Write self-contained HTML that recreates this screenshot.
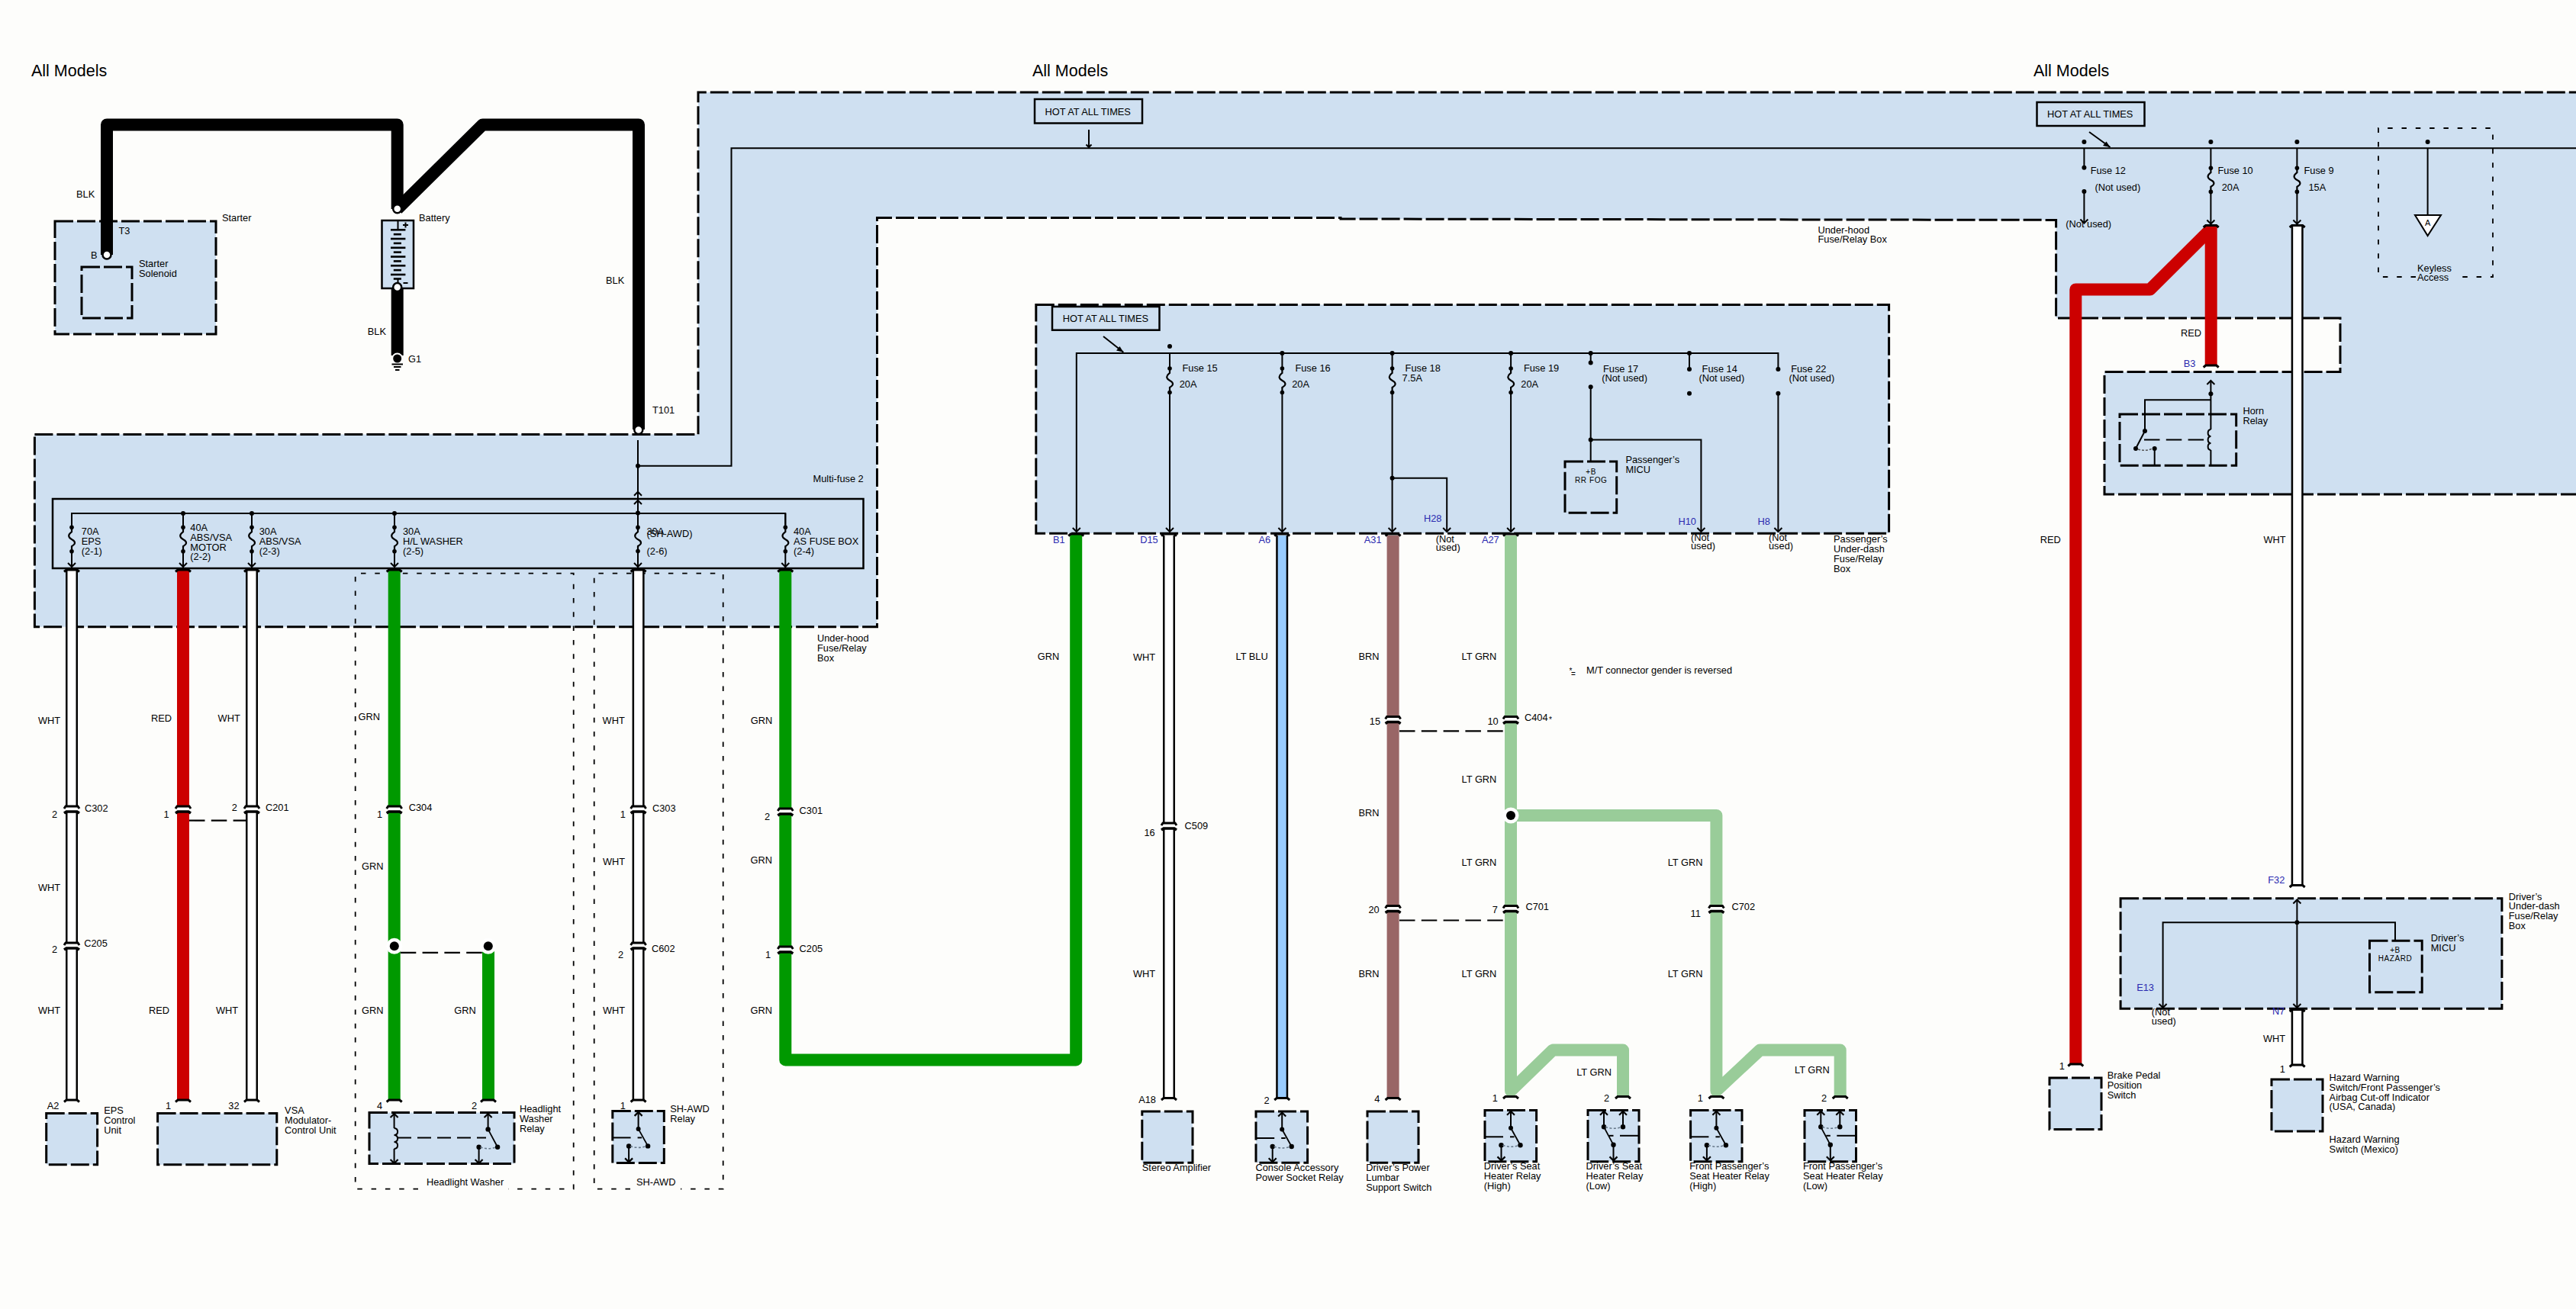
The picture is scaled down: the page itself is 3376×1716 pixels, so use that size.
<!DOCTYPE html>
<html><head><meta charset="utf-8"><style>
html,body{margin:0;padding:0;background:#fdfdfb;overflow:hidden}
svg{display:block}
text{font-family:"Liberation Sans",sans-serif}
</style></head><body>
<svg width="3376" height="1716" viewBox="0 0 3376 1716">
<rect x="0" y="0" width="3376" height="1716" fill="#fdfdfb"/>
<path d="M915,121 L3380,121 L3380,648 L2758,648 L2758,487.6 L3067,487.6 L3067,417 L2694.6,417 L2694.6,288.4 L1757,287 L1757,285.6 L1149.5,285.6 L1149.5,821.7 L45.4,821.7 L45.4,569.6 L915,569.6 Z" fill="#cfe0f1" stroke="none"/>
<path d="M45.4,569.6 L915,569.6 L915,121 L3380,121" fill="none" stroke="#000" stroke-width="3" stroke-dasharray="24 5"/>
<path d="M3380,648 L2758,648 L2758,487.6 L3067,487.6 L3067,417 L2694.6,417 L2694.6,288.4 L1757,287 L1757,285.6 L1149.5,285.6 L1149.5,821.7 L45.4,821.7 L45.4,569.6" fill="none" stroke="#000" stroke-width="3" stroke-dasharray="24 5"/>
<text x="41" y="100.0" font-size="21.5" text-anchor="start" fill="#000" >All Models</text>
<text x="1353" y="100.0" font-size="21.5" text-anchor="start" fill="#000" >All Models</text>
<text x="2665" y="100.0" font-size="21.5" text-anchor="start" fill="#000" >All Models</text>
<rect x="72" y="290" width="211" height="148" fill="#cfe0f1" stroke="#000" stroke-width="3" stroke-dasharray="24 5"/>
<rect x="107" y="350" width="66" height="67" fill="#cfe0f1" stroke="#000" stroke-width="3" stroke-dasharray="24 5"/>
<text x="291" y="290.0" font-size="12.8" text-anchor="start" fill="#000" >Starter</text>
<text x="155.5" y="307.0" font-size="12.8" text-anchor="start" fill="#000" >T3</text>
<text x="119" y="338.5" font-size="12.8" text-anchor="start" fill="#000" >B</text>
<text x="182" y="350.4" font-size="12.8" text-anchor="start" fill="#000" >Starter</text>
<text x="182" y="363.2" font-size="12.8" text-anchor="start" fill="#000" >Solenoid</text>
<text x="100" y="258.5" font-size="12.8" text-anchor="start" fill="#000" >BLK</text>
<polyline points="140,334 140,163.5 520.7,163.5 520.7,274" fill="none" stroke="#000" stroke-width="16" stroke-linejoin="round" stroke-linecap="butt"/>
<polyline points="520.7,274 632.5,163.5 837,163.5 837,563" fill="none" stroke="#000" stroke-width="16" stroke-linejoin="round" stroke-linecap="butt"/>
<polyline points="520.7,377 520.7,466" fill="none" stroke="#000" stroke-width="16" stroke-linejoin="miter" stroke-linecap="butt"/>
<rect x="500.5" y="289" width="41.5" height="89" fill="#cfe0f1" stroke="#000" stroke-width="2.5"/>
<line x1="521.5" y1="289" x2="521.5" y2="301.3" stroke="#000" stroke-width="2"/>
<line x1="512" y1="301.3" x2="531.4" y2="301.3" stroke="#000" stroke-width="2.6"/>
<line x1="515.8" y1="307.17" x2="525.9" y2="307.17" stroke="#000" stroke-width="2.6"/>
<line x1="512" y1="313.04" x2="531.4" y2="313.04" stroke="#000" stroke-width="2.6"/>
<line x1="515.8" y1="318.91" x2="525.9" y2="318.91" stroke="#000" stroke-width="2.6"/>
<line x1="512" y1="324.78000000000003" x2="531.4" y2="324.78000000000003" stroke="#000" stroke-width="2.6"/>
<line x1="515.8" y1="330.65000000000003" x2="525.9" y2="330.65000000000003" stroke="#000" stroke-width="2.6"/>
<line x1="512" y1="336.52" x2="531.4" y2="336.52" stroke="#000" stroke-width="2.6"/>
<line x1="515.8" y1="342.39" x2="525.9" y2="342.39" stroke="#000" stroke-width="2.6"/>
<line x1="512" y1="348.26" x2="531.4" y2="348.26" stroke="#000" stroke-width="2.6"/>
<line x1="515.8" y1="354.13" x2="525.9" y2="354.13" stroke="#000" stroke-width="2.6"/>
<line x1="512" y1="360.0" x2="531.4" y2="360.0" stroke="#000" stroke-width="2.6"/>
<line x1="515.8" y1="365.5" x2="525.9" y2="365.5" stroke="#000" stroke-width="2.6"/>
<line x1="521.5" y1="365.5" x2="521.5" y2="372" stroke="#000" stroke-width="2"/>
<line x1="528" y1="295" x2="535" y2="295" stroke="#000" stroke-width="2"/>
<line x1="531.5" y1="291.5" x2="531.5" y2="298.5" stroke="#000" stroke-width="2"/>
<line x1="528.5" y1="371" x2="534.5" y2="371" stroke="#000" stroke-width="2"/>
<circle cx="140" cy="334" r="5.5" fill="#fff" stroke="#000" stroke-width="2.5"/>
<circle cx="520.7" cy="273.8" r="5.5" fill="#fff" stroke="#000" stroke-width="2.5"/>
<circle cx="520.7" cy="376.5" r="5.5" fill="#fff" stroke="#000" stroke-width="2.5"/>
<circle cx="836.8" cy="563.4" r="5.5" fill="#fff" stroke="#000" stroke-width="2.5"/>
<text x="549" y="290.0" font-size="12.8" text-anchor="start" fill="#000" >Battery</text>
<text x="481.8" y="439.0" font-size="12.8" text-anchor="start" fill="#000" >BLK</text>
<text x="535" y="475.0" font-size="12.8" text-anchor="start" fill="#000" >G1</text>
<text x="794" y="372.0" font-size="12.8" text-anchor="start" fill="#000" >BLK</text>
<text x="855" y="541.6" font-size="12.8" text-anchor="start" fill="#000" >T101</text>
<circle cx="520.7" cy="470" r="6.5" fill="#000" stroke="#fff" stroke-width="2"/>
<line x1="513.5" y1="477.5" x2="528" y2="477.5" stroke="#000" stroke-width="2"/>
<line x1="516" y1="481" x2="525.5" y2="481" stroke="#000" stroke-width="2"/>
<line x1="518" y1="485" x2="523.5" y2="485" stroke="#000" stroke-width="2"/>
<polyline points="836,577 836,691" fill="none" stroke="#000" stroke-width="2" stroke-linejoin="miter" stroke-linecap="butt"/>
<polyline points="836,610.7 958.5,610.7 958.5,194.3 3380,194.3" fill="none" stroke="#000" stroke-width="2" stroke-linejoin="miter" stroke-linecap="butt"/>
<circle cx="836" cy="610.7" r="3" fill="#000"/>
<polyline points="831,649.7 836,644.7 841,649.7" fill="none" stroke="#000" stroke-width="2" stroke-linejoin="miter" stroke-linecap="butt"/>
<polyline points="831,661 836,656 841,661" fill="none" stroke="#000" stroke-width="2" stroke-linejoin="miter" stroke-linecap="butt"/>
<text x="1065.6" y="631.8" font-size="12.8" text-anchor="start" fill="#000" >Multi-fuse 2</text>
<rect x="69" y="654" width="1062.5" height="91" fill="none" stroke="#000" stroke-width="2.5"/>
<polyline points="94,691 94,673 1029.3,673 1029.3,691" fill="none" stroke="#000" stroke-width="2" stroke-linejoin="miter" stroke-linecap="butt"/>
<polyline points="94,673 94,691" fill="none" stroke="#000" stroke-width="2" stroke-linejoin="miter" stroke-linecap="butt"/>
<polyline points="94,723 94,745" fill="none" stroke="#000" stroke-width="2" stroke-linejoin="miter" stroke-linecap="butt"/>
<polyline points="240,673 240,691" fill="none" stroke="#000" stroke-width="2" stroke-linejoin="miter" stroke-linecap="butt"/>
<polyline points="240,723 240,745" fill="none" stroke="#000" stroke-width="2" stroke-linejoin="miter" stroke-linecap="butt"/>
<polyline points="330,673 330,691" fill="none" stroke="#000" stroke-width="2" stroke-linejoin="miter" stroke-linecap="butt"/>
<polyline points="330,723 330,745" fill="none" stroke="#000" stroke-width="2" stroke-linejoin="miter" stroke-linecap="butt"/>
<polyline points="517,673 517,691" fill="none" stroke="#000" stroke-width="2" stroke-linejoin="miter" stroke-linecap="butt"/>
<polyline points="517,723 517,745" fill="none" stroke="#000" stroke-width="2" stroke-linejoin="miter" stroke-linecap="butt"/>
<polyline points="836,673 836,691" fill="none" stroke="#000" stroke-width="2" stroke-linejoin="miter" stroke-linecap="butt"/>
<polyline points="836,723 836,745" fill="none" stroke="#000" stroke-width="2" stroke-linejoin="miter" stroke-linecap="butt"/>
<polyline points="1029.3,673 1029.3,691" fill="none" stroke="#000" stroke-width="2" stroke-linejoin="miter" stroke-linecap="butt"/>
<polyline points="1029.3,723 1029.3,745" fill="none" stroke="#000" stroke-width="2" stroke-linejoin="miter" stroke-linecap="butt"/>
<circle cx="94" cy="691.2" r="2.8" fill="#000"/>
<circle cx="94" cy="722.8" r="2.8" fill="#000"/>
<path d="M94,691.2 L94,697.18 C93,698.18 90,699.67 90.2,702.66 C90.4,705.16 93,706.65 95,707.65 C97,708.64 98.2,710.14 98,712.13 C97.8,714.13 95.5,715.12 94,716.12 L94,722.8" fill="none" stroke="#000" stroke-width="2.2"/>
<polyline points="89,738 94,743 99,738" fill="none" stroke="#000" stroke-width="2" stroke-linejoin="miter" stroke-linecap="butt"/>
<circle cx="240" cy="691.2" r="2.8" fill="#000"/>
<circle cx="240" cy="722.8" r="2.8" fill="#000"/>
<path d="M240,691.2 L240,697.18 C239,698.18 236,699.67 236.2,702.66 C236.4,705.16 239,706.65 241,707.65 C243,708.64 244.2,710.14 244,712.13 C243.8,714.13 241.5,715.12 240,716.12 L240,722.8" fill="none" stroke="#000" stroke-width="2.2"/>
<polyline points="235,738 240,743 245,738" fill="none" stroke="#000" stroke-width="2" stroke-linejoin="miter" stroke-linecap="butt"/>
<circle cx="240" cy="673" r="3" fill="#000"/>
<circle cx="330" cy="691.2" r="2.8" fill="#000"/>
<circle cx="330" cy="722.8" r="2.8" fill="#000"/>
<path d="M330,691.2 L330,697.18 C329,698.18 326,699.67 326.2,702.66 C326.4,705.16 329,706.65 331,707.65 C333,708.64 334.2,710.14 334,712.13 C333.8,714.13 331.5,715.12 330,716.12 L330,722.8" fill="none" stroke="#000" stroke-width="2.2"/>
<polyline points="325,738 330,743 335,738" fill="none" stroke="#000" stroke-width="2" stroke-linejoin="miter" stroke-linecap="butt"/>
<circle cx="330" cy="673" r="3" fill="#000"/>
<circle cx="517" cy="691.2" r="2.8" fill="#000"/>
<circle cx="517" cy="722.8" r="2.8" fill="#000"/>
<path d="M517,691.2 L517,697.18 C516,698.18 513,699.67 513.2,702.66 C513.4,705.16 516,706.65 518,707.65 C520,708.64 521.2,710.14 521,712.13 C520.8,714.13 518.5,715.12 517,716.12 L517,722.8" fill="none" stroke="#000" stroke-width="2.2"/>
<polyline points="512,738 517,743 522,738" fill="none" stroke="#000" stroke-width="2" stroke-linejoin="miter" stroke-linecap="butt"/>
<circle cx="517" cy="673" r="3" fill="#000"/>
<circle cx="1029.3" cy="691.2" r="2.8" fill="#000"/>
<circle cx="1029.3" cy="722.8" r="2.8" fill="#000"/>
<path d="M1029.3,691.2 L1029.3,697.18 C1028.3,698.18 1025.3,699.67 1025.5,702.66 C1025.7,705.16 1028.3,706.65 1030.3,707.65 C1032.3,708.64 1033.5,710.14 1033.3,712.13 C1033.1,714.13 1030.8,715.12 1029.3,716.12 L1029.3,722.8" fill="none" stroke="#000" stroke-width="2.2"/>
<polyline points="1024.3,738 1029.3,743 1034.3,738" fill="none" stroke="#000" stroke-width="2" stroke-linejoin="miter" stroke-linecap="butt"/>
<text x="106.8" y="700.9" font-size="12.8" text-anchor="start" fill="#000" >70A</text>
<text x="106.8" y="713.7" font-size="12.8" text-anchor="start" fill="#000" >EPS</text>
<text x="106.8" y="726.5" font-size="12.8" text-anchor="start" fill="#000" >(2-1)</text>
<text x="249.3" y="696.0" font-size="12.8" text-anchor="start" fill="#000" >40A</text>
<text x="249.3" y="708.8" font-size="12.8" text-anchor="start" fill="#000" >ABS/VSA</text>
<text x="249.3" y="721.6" font-size="12.8" text-anchor="start" fill="#000" >MOTOR</text>
<text x="249.3" y="734.4" font-size="12.8" text-anchor="start" fill="#000" >(2-2)</text>
<text x="339.7" y="700.9" font-size="12.8" text-anchor="start" fill="#000" >30A</text>
<text x="339.7" y="713.7" font-size="12.8" text-anchor="start" fill="#000" >ABS/VSA</text>
<text x="339.7" y="726.5" font-size="12.8" text-anchor="start" fill="#000" >(2-3)</text>
<text x="528" y="700.9" font-size="12.8" text-anchor="start" fill="#000" >30A</text>
<text x="528" y="713.7" font-size="12.8" text-anchor="start" fill="#000" >H/L WASHER</text>
<text x="528" y="726.5" font-size="12.8" text-anchor="start" fill="#000" >(2-5)</text>
<text x="1040" y="700.9" font-size="12.8" text-anchor="start" fill="#000" >40A</text>
<text x="1040" y="713.7" font-size="12.8" text-anchor="start" fill="#000" >AS FUSE BOX</text>
<text x="1040" y="726.5" font-size="12.8" text-anchor="start" fill="#000" >(2-4)</text>
<circle cx="836" cy="691.4" r="2.8" fill="#000"/>
<circle cx="836" cy="722.6" r="2.8" fill="#000"/>
<path d="M836,691.4 L836,697.31 C835,698.29 832,699.77 832.2,702.72 C832.4,705.18 835,706.66 837,707.64 C839,708.62 840.2,710.10 840,712.07 C839.8,714.04 837.5,715.02 836,716.01 L836,722.6" fill="none" stroke="#000" stroke-width="2.2"/>
<circle cx="836" cy="672.5" r="3" fill="#000"/>
<polyline points="831,738 836,743 841,738" fill="none" stroke="#000" stroke-width="2" stroke-linejoin="miter" stroke-linecap="butt"/>
<text x="847.5" y="700.6" font-size="12.8" text-anchor="start" fill="#000" >30A</text>
<text x="847.5" y="704.2" font-size="12.8" text-anchor="start" fill="#000" >(SH-AWD)</text>
<text x="847.5" y="727.0" font-size="12.8" text-anchor="start" fill="#000" >(2-6)</text>
<text x="1071" y="841.0" font-size="12.8" text-anchor="start" fill="#000" >Under-hood</text>
<text x="1071" y="853.8" font-size="12.8" text-anchor="start" fill="#000" >Fuse/Relay</text>
<text x="1071" y="866.6" font-size="12.8" text-anchor="start" fill="#000" >Box</text>
<path d="M548,1558.7 L465.7,1558.7 L465.7,751.6 L751.7,751.6 L751.7,1558.7 L666,1558.7" fill="none" stroke="#000" stroke-width="1.8" stroke-dasharray="6.5 11.8"/>
<path d="M826,1558.7 L778.7,1558.7 L778.7,751.6 L947.7,751.6 L947.7,1558.7 L892,1558.7" fill="none" stroke="#000" stroke-width="1.8" stroke-dasharray="6.5 11.8"/>
<text x="559" y="1553.5" font-size="12.8" text-anchor="start" fill="#000" >Headlight Washer</text>
<text x="834" y="1554.0" font-size="12.8" text-anchor="start" fill="#000" >SH-AWD</text>
<polyline points="94,748 94,1443" fill="none" stroke="#000" stroke-width="16" stroke-linejoin="round" stroke-linecap="butt"/>
<polyline points="94,748 94,1443" fill="none" stroke="#fff" stroke-width="11" stroke-linejoin="round" stroke-linecap="butt"/>
<polyline points="240,748 240,1443" fill="none" stroke="#cc0000" stroke-width="16" stroke-linejoin="round" stroke-linecap="butt"/>
<polyline points="330,748 330,1443" fill="none" stroke="#000" stroke-width="16" stroke-linejoin="round" stroke-linecap="butt"/>
<polyline points="330,748 330,1443" fill="none" stroke="#fff" stroke-width="11" stroke-linejoin="round" stroke-linecap="butt"/>
<polyline points="516.7,748 516.7,1443" fill="none" stroke="#009900" stroke-width="16" stroke-linejoin="round" stroke-linecap="butt"/>
<polyline points="640,1240.4 640,1443" fill="none" stroke="#009900" stroke-width="16" stroke-linejoin="round" stroke-linecap="butt"/>
<polyline points="836.6,748 836.6,1443" fill="none" stroke="#000" stroke-width="16" stroke-linejoin="round" stroke-linecap="butt"/>
<polyline points="836.6,748 836.6,1443" fill="none" stroke="#fff" stroke-width="11" stroke-linejoin="round" stroke-linecap="butt"/>
<polyline points="1029.3,748 1029.3,1389.4 1410.2,1389.4 1410.2,701" fill="none" stroke="#009900" stroke-width="16" stroke-linejoin="round" stroke-linecap="butt"/>
<path d="M84.0,749.5 L87.0,747.0 L101.0,747.0 L104.0,749.5" fill="none" stroke="#000" stroke-width="3"/>
<path d="M230.0,749.5 L233.0,747.0 L247.0,747.0 L250.0,749.5" fill="none" stroke="#000" stroke-width="3"/>
<path d="M320.0,749.5 L323.0,747.0 L337.0,747.0 L340.0,749.5" fill="none" stroke="#000" stroke-width="3"/>
<path d="M506.70000000000005,749.5 L509.70000000000005,747.0 L523.7,747.0 L526.7,749.5" fill="none" stroke="#000" stroke-width="3"/>
<path d="M826.6,749.5 L829.6,747.0 L843.6,747.0 L846.6,749.5" fill="none" stroke="#000" stroke-width="3"/>
<path d="M1019.3,749.5 L1022.3,747.0 L1036.3,747.0 L1039.3,749.5" fill="none" stroke="#000" stroke-width="3"/>
<path d="M84.0,1444.5 L87.0,1442.0 L101.0,1442.0 L104.0,1444.5" fill="none" stroke="#000" stroke-width="3"/>
<path d="M230.0,1444.5 L233.0,1442.0 L247.0,1442.0 L250.0,1444.5" fill="none" stroke="#000" stroke-width="3"/>
<path d="M320.0,1444.5 L323.0,1442.0 L337.0,1442.0 L340.0,1444.5" fill="none" stroke="#000" stroke-width="3"/>
<path d="M506.70000000000005,1444.5 L509.70000000000005,1442.0 L523.7,1442.0 L526.7,1444.5" fill="none" stroke="#000" stroke-width="3"/>
<path d="M630.0,1444.5 L633.0,1442.0 L647.0,1442.0 L650.0,1444.5" fill="none" stroke="#000" stroke-width="3"/>
<path d="M826.6,1444.5 L829.6,1442.0 L843.6,1442.0 L846.6,1444.5" fill="none" stroke="#000" stroke-width="3"/>
<rect x="85.0" y="1058.0" width="18" height="6" fill="#fdfdfb"/>
<path d="M84.0,1060.0 L86.0,1057.0 L102.0,1057.0 L104.0,1060.0" fill="none" stroke="#000" stroke-width="3"/>
<path d="M84.0,1066.0 L87.0,1064.0 L101.0,1064.0 L104.0,1066.0" fill="none" stroke="#000" stroke-width="3.5"/>
<rect x="231.0" y="1058.0" width="18" height="6" fill="#fdfdfb"/>
<path d="M230.0,1060.0 L232.0,1057.0 L248.0,1057.0 L250.0,1060.0" fill="none" stroke="#000" stroke-width="3"/>
<path d="M230.0,1066.0 L233.0,1064.0 L247.0,1064.0 L250.0,1066.0" fill="none" stroke="#000" stroke-width="3.5"/>
<rect x="321.0" y="1058.0" width="18" height="6" fill="#fdfdfb"/>
<path d="M320.0,1060.0 L322.0,1057.0 L338.0,1057.0 L340.0,1060.0" fill="none" stroke="#000" stroke-width="3"/>
<path d="M320.0,1066.0 L323.0,1064.0 L337.0,1064.0 L340.0,1066.0" fill="none" stroke="#000" stroke-width="3.5"/>
<rect x="507.70000000000005" y="1058.0" width="18" height="6" fill="#fdfdfb"/>
<path d="M506.70000000000005,1060.0 L508.70000000000005,1057.0 L524.7,1057.0 L526.7,1060.0" fill="none" stroke="#000" stroke-width="3"/>
<path d="M506.70000000000005,1066.0 L509.70000000000005,1064.0 L523.7,1064.0 L526.7,1066.0" fill="none" stroke="#000" stroke-width="3.5"/>
<rect x="827.6" y="1058.0" width="18" height="6" fill="#fdfdfb"/>
<path d="M826.6,1060.0 L828.6,1057.0 L844.6,1057.0 L846.6,1060.0" fill="none" stroke="#000" stroke-width="3"/>
<path d="M826.6,1066.0 L829.6,1064.0 L843.6,1064.0 L846.6,1066.0" fill="none" stroke="#000" stroke-width="3.5"/>
<rect x="1020.3" y="1061.0" width="18" height="6" fill="#fdfdfb"/>
<path d="M1019.3,1063.0 L1021.3,1060.0 L1037.3,1060.0 L1039.3,1063.0" fill="none" stroke="#000" stroke-width="3"/>
<path d="M1019.3,1069.0 L1022.3,1067.0 L1036.3,1067.0 L1039.3,1069.0" fill="none" stroke="#000" stroke-width="3.5"/>
<rect x="85.0" y="1237.0" width="18" height="6" fill="#fdfdfb"/>
<path d="M84.0,1239.0 L86.0,1236.0 L102.0,1236.0 L104.0,1239.0" fill="none" stroke="#000" stroke-width="3"/>
<path d="M84.0,1245.0 L87.0,1243.0 L101.0,1243.0 L104.0,1245.0" fill="none" stroke="#000" stroke-width="3.5"/>
<rect x="827.6" y="1237.0" width="18" height="6" fill="#fdfdfb"/>
<path d="M826.6,1239.0 L828.6,1236.0 L844.6,1236.0 L846.6,1239.0" fill="none" stroke="#000" stroke-width="3"/>
<path d="M826.6,1245.0 L829.6,1243.0 L843.6,1243.0 L846.6,1245.0" fill="none" stroke="#000" stroke-width="3.5"/>
<rect x="1020.3" y="1242.0" width="18" height="6" fill="#fdfdfb"/>
<path d="M1019.3,1244.0 L1021.3,1241.0 L1037.3,1241.0 L1039.3,1244.0" fill="none" stroke="#000" stroke-width="3"/>
<path d="M1019.3,1250.0 L1022.3,1248.0 L1036.3,1248.0 L1039.3,1250.0" fill="none" stroke="#000" stroke-width="3.5"/>
<text x="68" y="1072.0" font-size="12.8" text-anchor="start" fill="#000" >2</text>
<text x="111" y="1064.0" font-size="12.8" text-anchor="start" fill="#000" >C302</text>
<text x="214.5" y="1072.0" font-size="12.8" text-anchor="start" fill="#000" >1</text>
<text x="303.8" y="1063.0" font-size="12.8" text-anchor="start" fill="#000" >2</text>
<text x="348" y="1063.0" font-size="12.8" text-anchor="start" fill="#000" >C201</text>
<line x1="248" y1="1075.6" x2="322" y2="1075.6" stroke="#000" stroke-width="2.2" stroke-dasharray="20.5 8.3"/>
<text x="494" y="1072.0" font-size="12.8" text-anchor="start" fill="#000" >1</text>
<text x="535.7" y="1063.0" font-size="12.8" text-anchor="start" fill="#000" >C304</text>
<text x="812.7" y="1072.0" font-size="12.8" text-anchor="start" fill="#000" >1</text>
<text x="855" y="1064.0" font-size="12.8" text-anchor="start" fill="#000" >C303</text>
<text x="1002" y="1074.6" font-size="12.8" text-anchor="start" fill="#000" >2</text>
<text x="1047.6" y="1066.7" font-size="12.8" text-anchor="start" fill="#000" >C301</text>
<text x="68" y="1249.0" font-size="12.8" text-anchor="start" fill="#000" >2</text>
<text x="110.2" y="1241.0" font-size="12.8" text-anchor="start" fill="#000" >C205</text>
<text x="810" y="1256.0" font-size="12.8" text-anchor="start" fill="#000" >2</text>
<text x="854" y="1248.0" font-size="12.8" text-anchor="start" fill="#000" >C602</text>
<text x="1003" y="1256.0" font-size="12.8" text-anchor="start" fill="#000" >1</text>
<text x="1047.6" y="1248.0" font-size="12.8" text-anchor="start" fill="#000" >C205</text>
<line x1="524.8" y1="1248.8" x2="632" y2="1248.8" stroke="#000" stroke-width="2.2" stroke-dasharray="20.5 8.3"/>
<circle cx="516.8" cy="1240.3" r="10.5" fill="#fff"/>
<circle cx="516.8" cy="1240.3" r="6" fill="#000"/>
<circle cx="639.8" cy="1240.3" r="10.5" fill="#fff"/>
<circle cx="639.8" cy="1240.3" r="6" fill="#000"/>
<text x="50" y="949.0" font-size="12.8" text-anchor="start" fill="#000" >WHT</text>
<text x="198" y="946.0" font-size="12.8" text-anchor="start" fill="#000" >RED</text>
<text x="285.6" y="946.0" font-size="12.8" text-anchor="start" fill="#000" >WHT</text>
<text x="469.6" y="944.0" font-size="12.8" text-anchor="start" fill="#000" >GRN</text>
<text x="789.6" y="949.0" font-size="12.8" text-anchor="start" fill="#000" >WHT</text>
<text x="983.8" y="949.0" font-size="12.8" text-anchor="start" fill="#000" >GRN</text>
<text x="50" y="1168.0" font-size="12.8" text-anchor="start" fill="#000" >WHT</text>
<text x="474" y="1139.7" font-size="12.8" text-anchor="start" fill="#000" >GRN</text>
<text x="790" y="1133.7" font-size="12.8" text-anchor="start" fill="#000" >WHT</text>
<text x="983.5" y="1132.0" font-size="12.8" text-anchor="start" fill="#000" >GRN</text>
<text x="50" y="1328.8" font-size="12.8" text-anchor="start" fill="#000" >WHT</text>
<text x="195" y="1328.8" font-size="12.8" text-anchor="start" fill="#000" >RED</text>
<text x="283" y="1328.8" font-size="12.8" text-anchor="start" fill="#000" >WHT</text>
<text x="474" y="1328.8" font-size="12.8" text-anchor="start" fill="#000" >GRN</text>
<text x="595.3" y="1328.8" font-size="12.8" text-anchor="start" fill="#000" >GRN</text>
<text x="790" y="1328.8" font-size="12.8" text-anchor="start" fill="#000" >WHT</text>
<text x="983.5" y="1328.8" font-size="12.8" text-anchor="start" fill="#000" >GRN</text>
<rect x="60.7" y="1459.5" width="66.89999999999999" height="67.29999999999995" fill="#cfe0f1" stroke="#000" stroke-width="3" stroke-dasharray="24 5"/>
<text x="61.7" y="1454.2" font-size="12.8" text-anchor="start" fill="#000" >A2</text>
<text x="136.2" y="1460.0" font-size="12.8" text-anchor="start" fill="#000" >EPS</text>
<text x="136.2" y="1472.8" font-size="12.8" text-anchor="start" fill="#000" >Control</text>
<text x="136.2" y="1485.6" font-size="12.8" text-anchor="start" fill="#000" >Unit</text>
<rect x="206.6" y="1459.5" width="156.20000000000002" height="67.29999999999995" fill="#cfe0f1" stroke="#000" stroke-width="3" stroke-dasharray="24 5"/>
<text x="217" y="1454.2" font-size="12.8" text-anchor="start" fill="#000" >1</text>
<text x="299.3" y="1454.2" font-size="12.8" text-anchor="start" fill="#000" >32</text>
<text x="373.1" y="1460.0" font-size="12.8" text-anchor="start" fill="#000" >VSA</text>
<text x="373.1" y="1472.8" font-size="12.8" text-anchor="start" fill="#000" >Modulator-</text>
<text x="373.1" y="1485.6" font-size="12.8" text-anchor="start" fill="#000" >Control Unit</text>
<rect x="484" y="1458.5" width="190" height="67.0" fill="#cfe0f1" stroke="#000" stroke-width="3" stroke-dasharray="24 5"/>
<text x="494" y="1454.0" font-size="12.8" text-anchor="start" fill="#000" >4</text>
<text x="618" y="1454.0" font-size="12.8" text-anchor="start" fill="#000" >2</text>
<text x="681" y="1458.0" font-size="12.8" text-anchor="start" fill="#000" >Headlight</text>
<text x="681" y="1470.8" font-size="12.8" text-anchor="start" fill="#000" >Washer</text>
<text x="681" y="1483.6" font-size="12.8" text-anchor="start" fill="#000" >Relay</text>
<rect x="802.8" y="1456.4" width="67.5" height="68.0" fill="#cfe0f1" stroke="#000" stroke-width="3" stroke-dasharray="24 5"/>
<text x="812.7" y="1454.0" font-size="12.8" text-anchor="start" fill="#000" >1</text>
<text x="878.3" y="1458.0" font-size="12.8" text-anchor="start" fill="#000" >SH-AWD</text>
<text x="878.3" y="1470.8" font-size="12.8" text-anchor="start" fill="#000" >Relay</text>
<rect x="1356" y="130" width="141" height="31.5" fill="none" stroke="#000" stroke-width="2.5"/>
<text x="1369.5" y="150.5" font-size="12.8" text-anchor="start" fill="#000" >HOT AT ALL TIMES</text>
<polyline points="1427,170 1427,194" fill="none" stroke="#000" stroke-width="2" stroke-linejoin="miter" stroke-linecap="butt"/>
<polyline points="1423.5,189.5 1427,193 1430.5,189.5" fill="none" stroke="#000" stroke-width="2" stroke-linejoin="miter" stroke-linecap="butt"/>
<text x="2382.5" y="305.5" font-size="12.8" text-anchor="start" fill="#000" >Under-hood</text>
<text x="2382.5" y="318.3" font-size="12.8" text-anchor="start" fill="#000" >Fuse/Relay Box</text>
<rect x="1357.8" y="399.5" width="1117.8" height="299.70000000000005" fill="#cfe0f1" stroke="#000" stroke-width="3" stroke-dasharray="24 5"/>
<rect x="1379" y="402" width="140.5" height="30.7" fill="none" stroke="#000" stroke-width="2.5"/>
<text x="1392.7" y="422.0" font-size="12.8" text-anchor="start" fill="#000" >HOT AT ALL TIMES</text>
<polyline points="1446,441 1472.3,461.8" fill="none" stroke="#000" stroke-width="2" stroke-linejoin="miter" stroke-linecap="butt"/>
<path d="M1472.3,461.8 L1463,459.5 L1467.5,454 Z" fill="#000"/>
<polyline points="1410.8,697 1410.8,463 2330.4,463 2330.4,484" fill="none" stroke="#000" stroke-width="2" stroke-linejoin="miter" stroke-linecap="butt"/>
<circle cx="1533" cy="454" r="3" fill="#000"/>
<circle cx="1533" cy="483" r="2.8" fill="#000"/>
<circle cx="1533" cy="514.5" r="2.8" fill="#000"/>
<path d="M1533,483 L1533,488.96 C1532,489.96 1529,491.45 1529.2,494.43 C1529.4,496.91 1532,498.40 1534,499.40 C1536,500.39 1537.2,501.88 1537,503.87 C1536.8,505.85 1534.5,506.85 1533,507.84 L1533,514.5" fill="none" stroke="#000" stroke-width="2.2"/>
<polyline points="1533,463 1533,483" fill="none" stroke="#000" stroke-width="2" stroke-linejoin="miter" stroke-linecap="butt"/>
<polyline points="1533,514.5 1533,697" fill="none" stroke="#000" stroke-width="2" stroke-linejoin="miter" stroke-linecap="butt"/>
<circle cx="1680.4" cy="483" r="2.8" fill="#000"/>
<circle cx="1680.4" cy="514.5" r="2.8" fill="#000"/>
<path d="M1680.4,483 L1680.4,488.96 C1679.4,489.96 1676.4,491.45 1676.6000000000001,494.43 C1676.8000000000002,496.91 1679.4,498.40 1681.4,499.40 C1683.4,500.39 1684.6000000000001,501.88 1684.4,503.87 C1684.2,505.85 1681.9,506.85 1680.4,507.84 L1680.4,514.5" fill="none" stroke="#000" stroke-width="2.2"/>
<polyline points="1680.4,463 1680.4,483" fill="none" stroke="#000" stroke-width="2" stroke-linejoin="miter" stroke-linecap="butt"/>
<polyline points="1680.4,514.5 1680.4,697" fill="none" stroke="#000" stroke-width="2" stroke-linejoin="miter" stroke-linecap="butt"/>
<circle cx="1824.6" cy="483" r="2.8" fill="#000"/>
<circle cx="1824.6" cy="514.5" r="2.8" fill="#000"/>
<path d="M1824.6,483 L1824.6,488.96 C1823.6,489.96 1820.6,491.45 1820.8,494.43 C1821.0,496.91 1823.6,498.40 1825.6,499.40 C1827.6,500.39 1828.8,501.88 1828.6,503.87 C1828.3999999999999,505.85 1826.1,506.85 1824.6,507.84 L1824.6,514.5" fill="none" stroke="#000" stroke-width="2.2"/>
<polyline points="1824.6,463 1824.6,483" fill="none" stroke="#000" stroke-width="2" stroke-linejoin="miter" stroke-linecap="butt"/>
<polyline points="1824.6,514.5 1824.6,697" fill="none" stroke="#000" stroke-width="2" stroke-linejoin="miter" stroke-linecap="butt"/>
<circle cx="1980.1" cy="483" r="2.8" fill="#000"/>
<circle cx="1980.1" cy="514.5" r="2.8" fill="#000"/>
<path d="M1980.1,483 L1980.1,488.96 C1979.1,489.96 1976.1,491.45 1976.3,494.43 C1976.5,496.91 1979.1,498.40 1981.1,499.40 C1983.1,500.39 1984.3,501.88 1984.1,503.87 C1983.8999999999999,505.85 1981.6,506.85 1980.1,507.84 L1980.1,514.5" fill="none" stroke="#000" stroke-width="2.2"/>
<polyline points="1980.1,463 1980.1,483" fill="none" stroke="#000" stroke-width="2" stroke-linejoin="miter" stroke-linecap="butt"/>
<polyline points="1980.1,514.5 1980.1,697" fill="none" stroke="#000" stroke-width="2" stroke-linejoin="miter" stroke-linecap="butt"/>
<circle cx="1680.4" cy="463" r="3" fill="#000"/>
<circle cx="1824.6" cy="463" r="3" fill="#000"/>
<circle cx="1980.1" cy="463" r="3" fill="#000"/>
<circle cx="2084.7" cy="463" r="3" fill="#000"/>
<circle cx="2214" cy="463" r="3" fill="#000"/>
<text x="1549.5" y="487.0" font-size="12.8" text-anchor="start" fill="#000" >Fuse 15</text>
<text x="1545.7" y="507.8" font-size="12.8" text-anchor="start" fill="#000" >20A</text>
<text x="1697.4" y="487.0" font-size="12.8" text-anchor="start" fill="#000" >Fuse 16</text>
<text x="1693.2" y="507.8" font-size="12.8" text-anchor="start" fill="#000" >20A</text>
<text x="1841.6" y="486.9" font-size="12.8" text-anchor="start" fill="#000" >Fuse 18</text>
<text x="1837.6" y="499.5" font-size="12.8" text-anchor="start" fill="#000" >7.5A</text>
<text x="1996.9" y="487.0" font-size="12.8" text-anchor="start" fill="#000" >Fuse 19</text>
<text x="1993.3" y="507.5" font-size="12.8" text-anchor="start" fill="#000" >20A</text>
<polyline points="2084.7,463 2084.7,475.4" fill="none" stroke="#000" stroke-width="2" stroke-linejoin="miter" stroke-linecap="butt"/>
<circle cx="2084.7" cy="475.4" r="3" fill="#000"/>
<circle cx="2084.7" cy="507.2" r="3" fill="#000"/>
<polyline points="2084.7,507.2 2084.7,604" fill="none" stroke="#000" stroke-width="2" stroke-linejoin="miter" stroke-linecap="butt"/>
<polyline points="2084.7,576.4 2229.4,576.4 2229.4,697" fill="none" stroke="#000" stroke-width="2" stroke-linejoin="miter" stroke-linecap="butt"/>
<circle cx="2084.7" cy="576.4" r="3" fill="#000"/>
<text x="2101" y="487.7" font-size="12.8" text-anchor="start" fill="#000" >Fuse 17</text>
<text x="2099.2" y="499.9" font-size="12.8" text-anchor="start" fill="#000" >(Not used)</text>
<polyline points="2214,463 2214,484" fill="none" stroke="#000" stroke-width="2" stroke-linejoin="miter" stroke-linecap="butt"/>
<circle cx="2214" cy="484" r="3" fill="#000"/>
<circle cx="2214" cy="515.8" r="3" fill="#000"/>
<text x="2230.6" y="487.7" font-size="12.8" text-anchor="start" fill="#000" >Fuse 14</text>
<text x="2226.5" y="499.9" font-size="12.8" text-anchor="start" fill="#000" >(Not used)</text>
<circle cx="2330.4" cy="484" r="3" fill="#000"/>
<circle cx="2330.4" cy="515.8" r="3" fill="#000"/>
<polyline points="2330.4,515.8 2330.4,697" fill="none" stroke="#000" stroke-width="2" stroke-linejoin="miter" stroke-linecap="butt"/>
<text x="2347.2" y="487.7" font-size="12.8" text-anchor="start" fill="#000" >Fuse 22</text>
<text x="2344.5" y="499.9" font-size="12.8" text-anchor="start" fill="#000" >(Not used)</text>
<polyline points="1824.6,626.8 1896.2,626.8 1896.2,697" fill="none" stroke="#000" stroke-width="2" stroke-linejoin="miter" stroke-linecap="butt"/>
<circle cx="1824.6" cy="626.8" r="3" fill="#000"/>
<rect x="2051" y="605" width="67.69999999999982" height="67.20000000000005" fill="#cfe0f1" stroke="#000" stroke-width="3" stroke-dasharray="24 5"/>
<text x="2085.2" y="622.0" font-size="10" text-anchor="middle" fill="#000" letter-spacing="0.6">+B</text>
<text x="2085.2" y="633.0" font-size="10" text-anchor="middle" fill="#000" letter-spacing="0.6">RR FOG</text>
<text x="2130.4" y="607.4" font-size="12.8" text-anchor="start" fill="#000" >Passenger’s</text>
<text x="2130.4" y="620.2" font-size="12.8" text-anchor="start" fill="#000" >MICU</text>
<polyline points="1405.8,692 1410.8,697 1415.8,692" fill="none" stroke="#000" stroke-width="2" stroke-linejoin="miter" stroke-linecap="butt"/>
<polyline points="1528,692 1533,697 1538,692" fill="none" stroke="#000" stroke-width="2" stroke-linejoin="miter" stroke-linecap="butt"/>
<polyline points="1675.4,692 1680.4,697 1685.4,692" fill="none" stroke="#000" stroke-width="2" stroke-linejoin="miter" stroke-linecap="butt"/>
<polyline points="1819.6,692 1824.6,697 1829.6,692" fill="none" stroke="#000" stroke-width="2" stroke-linejoin="miter" stroke-linecap="butt"/>
<polyline points="1891.2,692 1896.2,697 1901.2,692" fill="none" stroke="#000" stroke-width="2" stroke-linejoin="miter" stroke-linecap="butt"/>
<polyline points="1975.1,692 1980.1,697 1985.1,692" fill="none" stroke="#000" stroke-width="2" stroke-linejoin="miter" stroke-linecap="butt"/>
<polyline points="2224.4,692 2229.4,697 2234.4,692" fill="none" stroke="#000" stroke-width="2" stroke-linejoin="miter" stroke-linecap="butt"/>
<polyline points="2325.4,692 2330.4,697 2335.4,692" fill="none" stroke="#000" stroke-width="2" stroke-linejoin="miter" stroke-linecap="butt"/>
<text x="1379.9" y="712.3" font-size="12.8" text-anchor="start" fill="#2b2bb0" >B1</text>
<text x="1494.2" y="712.3" font-size="12.8" text-anchor="start" fill="#2b2bb0" >D15</text>
<text x="1649.4" y="712.3" font-size="12.8" text-anchor="start" fill="#2b2bb0" >A6</text>
<text x="1787.8" y="712.3" font-size="12.8" text-anchor="start" fill="#2b2bb0" >A31</text>
<text x="1941.9" y="712.3" font-size="12.8" text-anchor="start" fill="#2b2bb0" >A27</text>
<text x="1866" y="683.7" font-size="12.8" text-anchor="start" fill="#2b2bb0" >H28</text>
<text x="2199.4" y="688.0" font-size="12.8" text-anchor="start" fill="#2b2bb0" >H10</text>
<text x="2303.5" y="688.0" font-size="12.8" text-anchor="start" fill="#2b2bb0" >H8</text>
<text x="1881.7" y="710.6" font-size="12.8" text-anchor="start" fill="#000" >(Not</text>
<text x="1881.7" y="722.1" font-size="12.8" text-anchor="start" fill="#000" >used)</text>
<text x="2216" y="708.9" font-size="12.8" text-anchor="start" fill="#000" >(Not</text>
<text x="2216" y="720.4" font-size="12.8" text-anchor="start" fill="#000" >used)</text>
<text x="2318" y="708.9" font-size="12.8" text-anchor="start" fill="#000" >(Not</text>
<text x="2318" y="720.4" font-size="12.8" text-anchor="start" fill="#000" >used)</text>
<text x="2403" y="711.3" font-size="12.8" text-anchor="start" fill="#000" >Passenger’s</text>
<text x="2403" y="724.1" font-size="12.8" text-anchor="start" fill="#000" >Under-dash</text>
<text x="2403" y="736.9" font-size="12.8" text-anchor="start" fill="#000" >Fuse/Relay</text>
<text x="2403" y="749.7" font-size="12.8" text-anchor="start" fill="#000" >Box</text>
<polyline points="1532,702 1532,1440.5" fill="none" stroke="#000" stroke-width="16" stroke-linejoin="round" stroke-linecap="butt"/>
<polyline points="1532,702 1532,1440.5" fill="none" stroke="#fff" stroke-width="11" stroke-linejoin="round" stroke-linecap="butt"/>
<polyline points="1680.2,702 1680.2,1440.5" fill="none" stroke="#000" stroke-width="16" stroke-linejoin="round" stroke-linecap="butt"/>
<polyline points="1680.2,702 1680.2,1440.5" fill="none" stroke="#99ccff" stroke-width="11" stroke-linejoin="round" stroke-linecap="butt"/>
<polyline points="1825.6,702 1825.6,1440.5" fill="none" stroke="#996666" stroke-width="16" stroke-linejoin="round" stroke-linecap="butt"/>
<polyline points="1980,702 1980,1430 2035,1376.6 2127,1376.6 2127,1438" fill="none" stroke="#99cc99" stroke-width="16" stroke-linejoin="round" stroke-linecap="butt"/>
<polyline points="1980,1069 2249.4,1069 2249.4,1430 2306.5,1376.6 2411.7,1376.6 2411.7,1438" fill="none" stroke="#99cc99" stroke-width="16" stroke-linejoin="round" stroke-linecap="butt"/>
<path d="M1400.2,702.5 L1403.2,700.0 L1417.2,700.0 L1420.2,702.5" fill="none" stroke="#000" stroke-width="3"/>
<path d="M1522.0,702.5 L1525.0,700.0 L1539.0,700.0 L1542.0,702.5" fill="none" stroke="#000" stroke-width="3"/>
<path d="M1670.2,702.5 L1673.2,700.0 L1687.2,700.0 L1690.2,702.5" fill="none" stroke="#000" stroke-width="3"/>
<path d="M1815.6,702.5 L1818.6,700.0 L1832.6,700.0 L1835.6,702.5" fill="none" stroke="#000" stroke-width="3"/>
<path d="M1970.0,702.5 L1973.0,700.0 L1987.0,700.0 L1990.0,702.5" fill="none" stroke="#000" stroke-width="3"/>
<path d="M1522.0,1442 L1525.0,1439.5 L1539.0,1439.5 L1542.0,1442" fill="none" stroke="#000" stroke-width="3"/>
<path d="M1670.2,1442 L1673.2,1439.5 L1687.2,1439.5 L1690.2,1442" fill="none" stroke="#000" stroke-width="3"/>
<path d="M1815.6,1442 L1818.6,1439.5 L1832.6,1439.5 L1835.6,1442" fill="none" stroke="#000" stroke-width="3"/>
<path d="M1970.0,1440 L1973.0,1437.5 L1987.0,1437.5 L1990.0,1440" fill="none" stroke="#000" stroke-width="3"/>
<path d="M2117.0,1440 L2120.0,1437.5 L2134.0,1437.5 L2137.0,1440" fill="none" stroke="#000" stroke-width="3"/>
<path d="M2239.4,1440 L2242.4,1437.5 L2256.4,1437.5 L2259.4,1440" fill="none" stroke="#000" stroke-width="3"/>
<path d="M2401.7,1440 L2404.7,1437.5 L2418.7,1437.5 L2421.7,1440" fill="none" stroke="#000" stroke-width="3"/>
<circle cx="1980" cy="1069" r="10.5" fill="#fff"/>
<circle cx="1980" cy="1069" r="6" fill="#000"/>
<rect x="1523.0" y="1080.0" width="18" height="6" fill="#fdfdfb"/>
<path d="M1522.0,1082.0 L1524.0,1079.0 L1540.0,1079.0 L1542.0,1082.0" fill="none" stroke="#000" stroke-width="3"/>
<path d="M1522.0,1088.0 L1525.0,1086.0 L1539.0,1086.0 L1542.0,1088.0" fill="none" stroke="#000" stroke-width="3.5"/>
<rect x="1816.6" y="940.5" width="18" height="6" fill="#fdfdfb"/>
<path d="M1815.6,942.5 L1817.6,939.5 L1833.6,939.5 L1835.6,942.5" fill="none" stroke="#000" stroke-width="3"/>
<path d="M1815.6,948.5 L1818.6,946.5 L1832.6,946.5 L1835.6,948.5" fill="none" stroke="#000" stroke-width="3.5"/>
<rect x="1971.0" y="940.5" width="18" height="6" fill="#fdfdfb"/>
<path d="M1970.0,942.5 L1972.0,939.5 L1988.0,939.5 L1990.0,942.5" fill="none" stroke="#000" stroke-width="3"/>
<path d="M1970.0,948.5 L1973.0,946.5 L1987.0,946.5 L1990.0,948.5" fill="none" stroke="#000" stroke-width="3.5"/>
<rect x="1816.6" y="1188.5" width="18" height="6" fill="#fdfdfb"/>
<path d="M1815.6,1190.5 L1817.6,1187.5 L1833.6,1187.5 L1835.6,1190.5" fill="none" stroke="#000" stroke-width="3"/>
<path d="M1815.6,1196.5 L1818.6,1194.5 L1832.6,1194.5 L1835.6,1196.5" fill="none" stroke="#000" stroke-width="3.5"/>
<rect x="1971.0" y="1188.5" width="18" height="6" fill="#fdfdfb"/>
<path d="M1970.0,1190.5 L1972.0,1187.5 L1988.0,1187.5 L1990.0,1190.5" fill="none" stroke="#000" stroke-width="3"/>
<path d="M1970.0,1196.5 L1973.0,1194.5 L1987.0,1194.5 L1990.0,1196.5" fill="none" stroke="#000" stroke-width="3.5"/>
<rect x="2240.4" y="1188.5" width="18" height="6" fill="#fdfdfb"/>
<path d="M2239.4,1190.5 L2241.4,1187.5 L2257.4,1187.5 L2259.4,1190.5" fill="none" stroke="#000" stroke-width="3"/>
<path d="M2239.4,1196.5 L2242.4,1194.5 L2256.4,1194.5 L2259.4,1196.5" fill="none" stroke="#000" stroke-width="3.5"/>
<line x1="1834" y1="958.4" x2="1970" y2="958.4" stroke="#000" stroke-width="2.2" stroke-dasharray="20.5 8.3"/>
<line x1="1834" y1="1206.5" x2="1970" y2="1206.5" stroke="#000" stroke-width="2.2" stroke-dasharray="20.5 8.3"/>
<text x="1359.7" y="865.0" font-size="12.8" text-anchor="start" fill="#000" >GRN</text>
<text x="1485" y="865.7" font-size="12.8" text-anchor="start" fill="#000" >WHT</text>
<text x="1619.5" y="865.0" font-size="12.8" text-anchor="start" fill="#000" >LT BLU</text>
<text x="1780.5" y="865.0" font-size="12.8" text-anchor="start" fill="#000" >BRN</text>
<text x="1915.6" y="865.0" font-size="12.8" text-anchor="start" fill="#000" >LT GRN</text>
<text x="1915.6" y="1025.5" font-size="12.8" text-anchor="start" fill="#000" >LT GRN</text>
<text x="1780.5" y="1070.0" font-size="12.8" text-anchor="start" fill="#000" >BRN</text>
<text x="1915.6" y="1134.5" font-size="12.8" text-anchor="start" fill="#000" >LT GRN</text>
<text x="2185.7" y="1134.5" font-size="12.8" text-anchor="start" fill="#000" >LT GRN</text>
<text x="1485" y="1281.0" font-size="12.8" text-anchor="start" fill="#000" >WHT</text>
<text x="1780.5" y="1281.0" font-size="12.8" text-anchor="start" fill="#000" >BRN</text>
<text x="1915.6" y="1281.0" font-size="12.8" text-anchor="start" fill="#000" >LT GRN</text>
<text x="2185.7" y="1281.0" font-size="12.8" text-anchor="start" fill="#000" >LT GRN</text>
<text x="2066.2" y="1410.0" font-size="12.8" text-anchor="start" fill="#000" >LT GRN</text>
<text x="2352" y="1407.0" font-size="12.8" text-anchor="start" fill="#000" >LT GRN</text>
<text x="2056.5" y="883.0" font-size="10" text-anchor="start" fill="#000" >*</text>
<text x="2059" y="887.0" font-size="10" text-anchor="start" fill="#000" >=</text>
<text x="2079" y="883.0" font-size="12.8" text-anchor="start" fill="#000" >M/T connector gender is reversed</text>
<text x="1794.8" y="950.0" font-size="12.8" text-anchor="start" fill="#000" >15</text>
<text x="1949.4" y="950.0" font-size="12.8" text-anchor="start" fill="#000" >10</text>
<text x="1998" y="944.8" font-size="12.8" text-anchor="start" fill="#000" >C404</text>
<text x="2030" y="947.0" font-size="10" text-anchor="start" fill="#000" >*</text>
<text x="1499.4" y="1096.0" font-size="12.8" text-anchor="start" fill="#000" >16</text>
<text x="1552.6" y="1087.0" font-size="12.8" text-anchor="start" fill="#000" >C509</text>
<text x="1793.5" y="1197.0" font-size="12.8" text-anchor="start" fill="#000" >20</text>
<text x="1955.8" y="1197.0" font-size="12.8" text-anchor="start" fill="#000" >7</text>
<text x="1999.4" y="1193.0" font-size="12.8" text-anchor="start" fill="#000" >C701</text>
<text x="2215.6" y="1201.5" font-size="12.8" text-anchor="start" fill="#000" >11</text>
<text x="2269.5" y="1193.0" font-size="12.8" text-anchor="start" fill="#000" >C702</text>
<text x="1492.2" y="1446.0" font-size="12.8" text-anchor="start" fill="#000" >A18</text>
<text x="1656.5" y="1447.0" font-size="12.8" text-anchor="start" fill="#000" >2</text>
<text x="1801.3" y="1444.5" font-size="12.8" text-anchor="start" fill="#000" >4</text>
<text x="1955.8" y="1444.0" font-size="12.8" text-anchor="start" fill="#000" >1</text>
<text x="2102" y="1444.0" font-size="12.8" text-anchor="start" fill="#000" >2</text>
<text x="2224.7" y="1444.0" font-size="12.8" text-anchor="start" fill="#000" >1</text>
<text x="2387" y="1444.0" font-size="12.8" text-anchor="start" fill="#000" >2</text>
<rect x="1496.8" y="1457" width="66.20000000000005" height="67.20000000000005" fill="#cfe0f1" stroke="#000" stroke-width="3" stroke-dasharray="24 5"/>
<rect x="1646" y="1457" width="67.59999999999991" height="67.20000000000005" fill="#cfe0f1" stroke="#000" stroke-width="3" stroke-dasharray="24 5"/>
<rect x="1792" y="1457" width="67" height="67.20000000000005" fill="#cfe0f1" stroke="#000" stroke-width="3" stroke-dasharray="24 5"/>
<rect x="1946" y="1455.5" width="67.59999999999991" height="67.20000000000005" fill="#cfe0f1" stroke="#000" stroke-width="3" stroke-dasharray="24 5"/>
<rect x="2081" y="1455.5" width="67" height="67.20000000000005" fill="#cfe0f1" stroke="#000" stroke-width="3" stroke-dasharray="24 5"/>
<rect x="2215.6" y="1455.5" width="67.40000000000009" height="67.20000000000005" fill="#cfe0f1" stroke="#000" stroke-width="3" stroke-dasharray="24 5"/>
<rect x="2365" y="1455.5" width="67.5" height="67.20000000000005" fill="#cfe0f1" stroke="#000" stroke-width="3" stroke-dasharray="24 5"/>
<text x="1496.8" y="1535.0" font-size="12.8" text-anchor="start" fill="#000" >Stereo Amplifier</text>
<text x="1645.5" y="1535.0" font-size="12.8" text-anchor="start" fill="#000" >Console Accessory</text>
<text x="1645.5" y="1547.8" font-size="12.8" text-anchor="start" fill="#000" >Power Socket Relay</text>
<text x="1790.3" y="1535.0" font-size="12.8" text-anchor="start" fill="#000" >Driver’s Power</text>
<text x="1790.3" y="1547.8" font-size="12.8" text-anchor="start" fill="#000" >Lumbar</text>
<text x="1790.3" y="1560.6" font-size="12.8" text-anchor="start" fill="#000" >Support Switch</text>
<text x="1944.8" y="1533.0" font-size="12.8" text-anchor="start" fill="#000" >Driver’s Seat</text>
<text x="1944.8" y="1545.8" font-size="12.8" text-anchor="start" fill="#000" >Heater Relay</text>
<text x="1944.8" y="1558.6" font-size="12.8" text-anchor="start" fill="#000" >(High)</text>
<text x="2078.6" y="1533.0" font-size="12.8" text-anchor="start" fill="#000" >Driver’s Seat</text>
<text x="2078.6" y="1545.8" font-size="12.8" text-anchor="start" fill="#000" >Heater Relay</text>
<text x="2078.6" y="1558.6" font-size="12.8" text-anchor="start" fill="#000" >(Low)</text>
<text x="2214.3" y="1533.0" font-size="12.8" text-anchor="start" fill="#000" >Front Passenger’s</text>
<text x="2214.3" y="1545.8" font-size="12.8" text-anchor="start" fill="#000" >Seat Heater Relay</text>
<text x="2214.3" y="1558.6" font-size="12.8" text-anchor="start" fill="#000" >(High)</text>
<text x="2363" y="1533.0" font-size="12.8" text-anchor="start" fill="#000" >Front Passenger’s</text>
<text x="2363" y="1545.8" font-size="12.8" text-anchor="start" fill="#000" >Seat Heater Relay</text>
<text x="2363" y="1558.6" font-size="12.8" text-anchor="start" fill="#000" >(Low)</text>
<rect x="2669.5" y="134" width="141" height="31" fill="none" stroke="#000" stroke-width="2.5"/>
<text x="2683" y="154.0" font-size="12.8" text-anchor="start" fill="#000" >HOT AT ALL TIMES</text>
<polyline points="2738,173 2765.5,193" fill="none" stroke="#000" stroke-width="2" stroke-linejoin="miter" stroke-linecap="butt"/>
<path d="M2765.5,193 L2756,191 L2760.5,185.5 Z" fill="#000"/>
<circle cx="2731.4" cy="186" r="3" fill="#000"/>
<polyline points="2731.4,194 2731.4,219.7" fill="none" stroke="#000" stroke-width="2" stroke-linejoin="miter" stroke-linecap="butt"/>
<circle cx="2731.4" cy="219.7" r="3" fill="#000"/>
<circle cx="2731.4" cy="250.9" r="3" fill="#000"/>
<polyline points="2731.4,250.9 2731.4,292.5" fill="none" stroke="#000" stroke-width="2" stroke-linejoin="miter" stroke-linecap="butt"/>
<polyline points="2726.4,287.5 2731.4,292.5 2736.4,287.5" fill="none" stroke="#000" stroke-width="2" stroke-linejoin="miter" stroke-linecap="butt"/>
<text x="2739.7" y="228.0" font-size="12.8" text-anchor="start" fill="#000" >Fuse 12</text>
<text x="2745.5" y="249.6" font-size="12.8" text-anchor="start" fill="#000" >(Not used)</text>
<text x="2707.3" y="298.2" font-size="12.8" text-anchor="start" fill="#000" >(Not used)</text>
<circle cx="2897.4" cy="186" r="3" fill="#000"/>
<polyline points="2897.4,194 2897.4,220.3" fill="none" stroke="#000" stroke-width="2" stroke-linejoin="miter" stroke-linecap="butt"/>
<polyline points="2897.4,251.4 2897.4,293" fill="none" stroke="#000" stroke-width="2" stroke-linejoin="miter" stroke-linecap="butt"/>
<circle cx="2897.4" cy="220.3" r="2.8" fill="#000"/>
<circle cx="2897.4" cy="251.4" r="2.8" fill="#000"/>
<path d="M2897.4,220.3 L2897.4,226.19 C2896.4,227.17 2893.4,228.64 2893.6,231.58 C2893.8,234.04 2896.4,235.51 2898.4,236.49 C2900.4,237.47 2901.6,238.94 2901.4,240.90 C2901.2000000000003,242.86 2898.9,243.85 2897.4,244.83 L2897.4,251.4" fill="none" stroke="#000" stroke-width="2.2"/>
<polyline points="2892.4,288.5 2897.4,293.5 2902.4,288.5" fill="none" stroke="#000" stroke-width="2" stroke-linejoin="miter" stroke-linecap="butt"/>
<text x="2906.5" y="228.0" font-size="12.8" text-anchor="start" fill="#000" >Fuse 10</text>
<text x="2911.7" y="249.6" font-size="12.8" text-anchor="start" fill="#000" >20A</text>
<circle cx="3010.4" cy="186" r="3" fill="#000"/>
<polyline points="3010.4,194 3010.4,220.3" fill="none" stroke="#000" stroke-width="2" stroke-linejoin="miter" stroke-linecap="butt"/>
<polyline points="3010.4,251.4 3010.4,293" fill="none" stroke="#000" stroke-width="2" stroke-linejoin="miter" stroke-linecap="butt"/>
<circle cx="3010.4" cy="220.3" r="2.8" fill="#000"/>
<circle cx="3010.4" cy="251.4" r="2.8" fill="#000"/>
<path d="M3010.4,220.3 L3010.4,226.19 C3009.4,227.17 3006.4,228.64 3006.6,231.58 C3006.8,234.04 3009.4,235.51 3011.4,236.49 C3013.4,237.47 3014.6,238.94 3014.4,240.90 C3014.2000000000003,242.86 3011.9,243.85 3010.4,244.83 L3010.4,251.4" fill="none" stroke="#000" stroke-width="2.2"/>
<polyline points="3005.4,288.5 3010.4,293.5 3015.4,288.5" fill="none" stroke="#000" stroke-width="2" stroke-linejoin="miter" stroke-linecap="butt"/>
<text x="3019.5" y="228.0" font-size="12.8" text-anchor="start" fill="#000" >Fuse 9</text>
<text x="3025.5" y="249.6" font-size="12.8" text-anchor="start" fill="#000" >15A</text>
<path d="M3166,363 L3117,363 L3117,168 L3267,168 L3267,363 L3226,363" fill="none" stroke="#000" stroke-width="1.8" stroke-dasharray="6.5 11.8"/>
<circle cx="3181.6" cy="186" r="3" fill="#000"/>
<polyline points="3181.6,194 3181.6,282" fill="none" stroke="#000" stroke-width="2" stroke-linejoin="miter" stroke-linecap="butt"/>
<path d="M3165,282 L3199,282 L3181.6,309 Z" fill="#fff" stroke="#000" stroke-width="2"/>
<text x="3181.6" y="296.0" font-size="11" text-anchor="middle" fill="#000" >A</text>
<text x="3168" y="355.5" font-size="12.8" text-anchor="start" fill="#000" >Keyless</text>
<text x="3168" y="368.3" font-size="12.8" text-anchor="start" fill="#000" >Access</text>
<polyline points="2897.7,297 2897.7,480" fill="none" stroke="#cc0000" stroke-width="16" stroke-linejoin="round" stroke-linecap="butt"/>
<polyline points="2897.7,300 2817.7,379.5 2720.3,379.5 2720.3,1396" fill="none" stroke="#cc0000" stroke-width="16" stroke-linejoin="round" stroke-linecap="butt"/>
<path d="M2887.7,298 L2890.7,295.5 L2904.7,295.5 L2907.7,298" fill="none" stroke="#000" stroke-width="3"/>
<path d="M2887.7,481.5 L2890.7,479.0 L2904.7,479.0 L2907.7,481.5" fill="none" stroke="#000" stroke-width="3"/>
<path d="M2710.3,1397.5 L2713.3,1395.0 L2727.3,1395.0 L2730.3,1397.5" fill="none" stroke="#000" stroke-width="3"/>
<text x="2857.9" y="440.5" font-size="12.8" text-anchor="start" fill="#000" >RED</text>
<text x="2861.8" y="480.8" font-size="12.8" text-anchor="start" fill="#2b2bb0" >B3</text>
<text x="2673.8" y="712.0" font-size="12.8" text-anchor="start" fill="#000" >RED</text>
<polyline points="3010.7,297 3010.7,1162" fill="none" stroke="#000" stroke-width="16" stroke-linejoin="round" stroke-linecap="butt"/>
<polyline points="3010.7,297 3010.7,1162" fill="none" stroke="#fff" stroke-width="11" stroke-linejoin="round" stroke-linecap="butt"/>
<path d="M3000.7,298 L3003.7,295.5 L3017.7,295.5 L3020.7,298" fill="none" stroke="#000" stroke-width="3"/>
<path d="M3000.7,1163 L3003.7,1160.5 L3017.7,1160.5 L3020.7,1163" fill="none" stroke="#000" stroke-width="3"/>
<text x="2966.5" y="712.0" font-size="12.8" text-anchor="start" fill="#000" >WHT</text>
<text x="2972.3" y="1158.0" font-size="12.8" text-anchor="start" fill="#2b2bb0" >F32</text>
<polyline points="2892.4,504 2897.4,499 2902.4,504" fill="none" stroke="#000" stroke-width="2" stroke-linejoin="miter" stroke-linecap="butt"/>
<polyline points="2897.4,499 2897.4,563" fill="none" stroke="#000" stroke-width="2" stroke-linejoin="miter" stroke-linecap="butt"/>
<polyline points="2897.4,590 2897.4,610" fill="none" stroke="#000" stroke-width="2" stroke-linejoin="miter" stroke-linecap="butt"/>
<line x1="2810" y1="576.5" x2="2892" y2="576.5" stroke="#000" stroke-width="2" stroke-dasharray="20.5 8.3"/>
<path d="M2897.4,563 c-5,0.5 -5,8.5 0,9 c-5,0.5 -5,8.5 0,9 c-5,0.5 -5,8.5 0,9" fill="none" stroke="#000" stroke-width="2"/>
<circle cx="2897.4" cy="516.3" r="3" fill="#000"/>
<polyline points="2897.4,524.2 2811,524.2 2811,565" fill="none" stroke="#000" stroke-width="2" stroke-linejoin="miter" stroke-linecap="butt"/>
<circle cx="2811" cy="565" r="3" fill="#000"/>
<polyline points="2811,565 2799,588" fill="none" stroke="#000" stroke-width="2" stroke-linejoin="miter" stroke-linecap="butt"/>
<circle cx="2799" cy="588" r="3" fill="#000"/>
<circle cx="2823.7" cy="588" r="3" fill="#000"/>
<polyline points="2823.7,588 2823.7,610" fill="none" stroke="#000" stroke-width="2" stroke-linejoin="miter" stroke-linecap="butt"/>
<path d="M2802,589 Q2812,592 2821,588" fill="none" stroke="#555" stroke-width="1.5" stroke-dasharray="3 2"/>
<path d="M2778,543 L2930.7,543 L2930.7,610.3 L2778,610.3 Z" fill="none" stroke="#000" stroke-width="3" stroke-dasharray="24 5"/>
<text x="2939.4" y="543.3" font-size="12.8" text-anchor="start" fill="#000" >Horn</text>
<text x="2939.4" y="556.3" font-size="12.8" text-anchor="start" fill="#000" >Relay</text>
<rect x="2779.1" y="1177.8" width="499.8000000000002" height="144.4000000000001" fill="#cfe0f1" stroke="#000" stroke-width="3" stroke-dasharray="24 5"/>
<polyline points="3005.4,1184.5 3010.4,1179.5 3015.4,1184.5" fill="none" stroke="#000" stroke-width="2" stroke-linejoin="miter" stroke-linecap="butt"/>
<polyline points="3010.4,1180 3010.4,1321" fill="none" stroke="#000" stroke-width="2" stroke-linejoin="miter" stroke-linecap="butt"/>
<polyline points="3005.4,1316 3010.4,1321 3015.4,1316" fill="none" stroke="#000" stroke-width="2" stroke-linejoin="miter" stroke-linecap="butt"/>
<polyline points="2834.6,1321 2834.6,1209.3 3139,1209.3 3139,1233.3" fill="none" stroke="#000" stroke-width="2" stroke-linejoin="miter" stroke-linecap="butt"/>
<polyline points="2829.6,1316 2834.6,1321 2839.6,1316" fill="none" stroke="#000" stroke-width="2" stroke-linejoin="miter" stroke-linecap="butt"/>
<circle cx="3010.4" cy="1209.3" r="3" fill="#000"/>
<rect x="3105.5" y="1233.3" width="68.69999999999982" height="67.40000000000009" fill="#cfe0f1" stroke="#000" stroke-width="3" stroke-dasharray="24 5"/>
<text x="3139" y="1248.8" font-size="10" text-anchor="middle" fill="#000" letter-spacing="0.6">+B</text>
<text x="3139" y="1260.0" font-size="10" text-anchor="middle" fill="#000" letter-spacing="0.6">HAZARD</text>
<text x="3185.7" y="1233.7" font-size="12.8" text-anchor="start" fill="#000" >Driver’s</text>
<text x="3185.7" y="1246.5" font-size="12.8" text-anchor="start" fill="#000" >MICU</text>
<text x="3287.8" y="1179.5" font-size="12.8" text-anchor="start" fill="#000" >Driver’s</text>
<text x="3287.8" y="1192.3" font-size="12.8" text-anchor="start" fill="#000" >Under-dash</text>
<text x="3287.8" y="1205.1" font-size="12.8" text-anchor="start" fill="#000" >Fuse/Relay</text>
<text x="3287.8" y="1217.9" font-size="12.8" text-anchor="start" fill="#000" >Box</text>
<text x="2800.2" y="1299.0" font-size="12.8" text-anchor="start" fill="#2b2bb0" >E13</text>
<text x="2978" y="1330.0" font-size="12.8" text-anchor="start" fill="#2b2bb0" >N7</text>
<text x="2819.8" y="1331.3" font-size="12.8" text-anchor="start" fill="#000" >(Not</text>
<text x="2819.8" y="1342.8" font-size="12.8" text-anchor="start" fill="#000" >used)</text>
<polyline points="3010.7,1325 3010.7,1397" fill="none" stroke="#000" stroke-width="16" stroke-linejoin="round" stroke-linecap="butt"/>
<polyline points="3010.7,1325 3010.7,1397" fill="none" stroke="#fff" stroke-width="11" stroke-linejoin="round" stroke-linecap="butt"/>
<path d="M3000.7,1326 L3003.7,1323.5 L3017.7,1323.5 L3020.7,1326" fill="none" stroke="#000" stroke-width="3"/>
<path d="M3000.7,1398.5 L3003.7,1396.0 L3017.7,1396.0 L3020.7,1398.5" fill="none" stroke="#000" stroke-width="3"/>
<text x="2966" y="1366.0" font-size="12.8" text-anchor="start" fill="#000" >WHT</text>
<rect x="2686" y="1413" width="68" height="67.5" fill="#cfe0f1" stroke="#000" stroke-width="3" stroke-dasharray="24 5"/>
<text x="2698.7" y="1402.0" font-size="12.8" text-anchor="start" fill="#000" >1</text>
<text x="2761.7" y="1414.0" font-size="12.8" text-anchor="start" fill="#000" >Brake Pedal</text>
<text x="2761.7" y="1426.8" font-size="12.8" text-anchor="start" fill="#000" >Position</text>
<text x="2761.7" y="1439.6" font-size="12.8" text-anchor="start" fill="#000" >Switch</text>
<rect x="2977" y="1415" width="67" height="68" fill="#cfe0f1" stroke="#000" stroke-width="3" stroke-dasharray="24 5"/>
<text x="2987.7" y="1406.0" font-size="12.8" text-anchor="start" fill="#000" >1</text>
<text x="3052.6" y="1417.0" font-size="12.8" text-anchor="start" fill="#000" >Hazard Warning</text>
<text x="3052.6" y="1429.8" font-size="12.8" text-anchor="start" fill="#000" >Switch/Front Passenger’s</text>
<text x="3052.6" y="1442.6" font-size="12.8" text-anchor="start" fill="#000" >Airbag Cut-off Indicator</text>
<text x="3052.6" y="1455.4" font-size="12.8" text-anchor="start" fill="#000" >(USA, Canada)</text>
<text x="3052.6" y="1498.0" font-size="12.8" text-anchor="start" fill="#000" >Hazard Warning</text>
<text x="3052.6" y="1510.8" font-size="12.8" text-anchor="start" fill="#000" >Switch (Mexico)</text>
<polyline points="836.6,1457.9 836.6,1479.9" fill="none" stroke="#000" stroke-width="2" stroke-linejoin="miter" stroke-linecap="butt"/>
<polyline points="831.6,1462.9 836.6,1457.9 841.6,1462.9" fill="none" stroke="#000" stroke-width="2.2" stroke-linejoin="miter" stroke-linecap="butt"/>
<circle cx="836.6" cy="1479.9" r="3" fill="#000"/>
<polyline points="836.6,1479.9 849.1,1502.4" fill="none" stroke="#000" stroke-width="1.8" stroke-linejoin="miter" stroke-linecap="butt"/>
<circle cx="849.1" cy="1502.4" r="3.2" fill="#000"/>
<circle cx="824.1" cy="1502.4" r="3.2" fill="#000"/>
<path d="M826.1,1502.4 Q836.6,1506.4 847.1,1502.4" fill="none" stroke="#667788" stroke-width="1.6" stroke-dasharray="3 2.5"/>
<polyline points="824.1,1502.4 824.1,1523.4" fill="none" stroke="#000" stroke-width="2" stroke-linejoin="miter" stroke-linecap="butt"/>
<polyline points="819.1,1518.4 824.1,1523.4 829.1,1518.4" fill="none" stroke="#000" stroke-width="2.2" stroke-linejoin="miter" stroke-linecap="butt"/>
<polyline points="802.8,1491.4 826.6,1491.4" fill="none" stroke="#000" stroke-width="2" stroke-linejoin="miter" stroke-linecap="butt"/>
<polyline points="835.6,1491.4 841.1,1491.4" fill="none" stroke="#000" stroke-width="2" stroke-linejoin="miter" stroke-linecap="butt"/>
<polyline points="1680.2,1458.5 1680.2,1480.5" fill="none" stroke="#000" stroke-width="2" stroke-linejoin="miter" stroke-linecap="butt"/>
<polyline points="1675.2,1463.5 1680.2,1458.5 1685.2,1463.5" fill="none" stroke="#000" stroke-width="2.2" stroke-linejoin="miter" stroke-linecap="butt"/>
<circle cx="1680.2" cy="1480.5" r="3" fill="#000"/>
<polyline points="1680.2,1480.5 1692.7,1503" fill="none" stroke="#000" stroke-width="1.8" stroke-linejoin="miter" stroke-linecap="butt"/>
<circle cx="1692.7" cy="1503" r="3.2" fill="#000"/>
<circle cx="1667.7" cy="1503" r="3.2" fill="#000"/>
<path d="M1669.7,1503 Q1680.2,1507 1690.7,1503" fill="none" stroke="#667788" stroke-width="1.6" stroke-dasharray="3 2.5"/>
<polyline points="1667.7,1503 1667.7,1523.2" fill="none" stroke="#000" stroke-width="2" stroke-linejoin="miter" stroke-linecap="butt"/>
<polyline points="1662.7,1518.2 1667.7,1523.2 1672.7,1518.2" fill="none" stroke="#000" stroke-width="2.2" stroke-linejoin="miter" stroke-linecap="butt"/>
<polyline points="1646,1492 1670.2,1492" fill="none" stroke="#000" stroke-width="2" stroke-linejoin="miter" stroke-linecap="butt"/>
<polyline points="1679.2,1492 1684.7,1492" fill="none" stroke="#000" stroke-width="2" stroke-linejoin="miter" stroke-linecap="butt"/>
<polyline points="1980,1456.8 1980,1478.8" fill="none" stroke="#000" stroke-width="2" stroke-linejoin="miter" stroke-linecap="butt"/>
<polyline points="1975,1461.8 1980,1456.8 1985,1461.8" fill="none" stroke="#000" stroke-width="2.2" stroke-linejoin="miter" stroke-linecap="butt"/>
<circle cx="1980" cy="1478.8" r="3" fill="#000"/>
<polyline points="1980,1478.8 1992.5,1501.3" fill="none" stroke="#000" stroke-width="1.8" stroke-linejoin="miter" stroke-linecap="butt"/>
<circle cx="1992.5" cy="1501.3" r="3.2" fill="#000"/>
<circle cx="1967.5" cy="1501.3" r="3.2" fill="#000"/>
<path d="M1969.5,1501.3 Q1980.0,1505.3 1990.5,1501.3" fill="none" stroke="#667788" stroke-width="1.6" stroke-dasharray="3 2.5"/>
<polyline points="1967.5,1501.3 1967.5,1521.4" fill="none" stroke="#000" stroke-width="2" stroke-linejoin="miter" stroke-linecap="butt"/>
<polyline points="1962.5,1516.4 1967.5,1521.4 1972.5,1516.4" fill="none" stroke="#000" stroke-width="2.2" stroke-linejoin="miter" stroke-linecap="butt"/>
<polyline points="1946.3,1490.3 1970,1490.3" fill="none" stroke="#000" stroke-width="2" stroke-linejoin="miter" stroke-linecap="butt"/>
<polyline points="1979,1490.3 1984.5,1490.3" fill="none" stroke="#000" stroke-width="2" stroke-linejoin="miter" stroke-linecap="butt"/>
<polyline points="2249.4,1456.8 2249.4,1478.8" fill="none" stroke="#000" stroke-width="2" stroke-linejoin="miter" stroke-linecap="butt"/>
<polyline points="2244.4,1461.8 2249.4,1456.8 2254.4,1461.8" fill="none" stroke="#000" stroke-width="2.2" stroke-linejoin="miter" stroke-linecap="butt"/>
<circle cx="2249.4" cy="1478.8" r="3" fill="#000"/>
<polyline points="2249.4,1478.8 2261.9,1501.3" fill="none" stroke="#000" stroke-width="1.8" stroke-linejoin="miter" stroke-linecap="butt"/>
<circle cx="2261.9" cy="1501.3" r="3.2" fill="#000"/>
<circle cx="2236.9" cy="1501.3" r="3.2" fill="#000"/>
<path d="M2238.9,1501.3 Q2249.4,1505.3 2259.9,1501.3" fill="none" stroke="#667788" stroke-width="1.6" stroke-dasharray="3 2.5"/>
<polyline points="2236.9,1501.3 2236.9,1521.2" fill="none" stroke="#000" stroke-width="2" stroke-linejoin="miter" stroke-linecap="butt"/>
<polyline points="2231.9,1516.2 2236.9,1521.2 2241.9,1516.2" fill="none" stroke="#000" stroke-width="2.2" stroke-linejoin="miter" stroke-linecap="butt"/>
<polyline points="2216.3,1490.3 2239.4,1490.3" fill="none" stroke="#000" stroke-width="2" stroke-linejoin="miter" stroke-linecap="butt"/>
<polyline points="2248.4,1490.3 2253.9,1490.3" fill="none" stroke="#000" stroke-width="2" stroke-linejoin="miter" stroke-linecap="butt"/>
<polyline points="2102,1456.8 2102,1477.3" fill="none" stroke="#000" stroke-width="2" stroke-linejoin="miter" stroke-linecap="butt"/>
<polyline points="2097,1461.8 2102,1456.8 2107,1461.8" fill="none" stroke="#000" stroke-width="2.2" stroke-linejoin="miter" stroke-linecap="butt"/>
<circle cx="2102" cy="1477.3" r="3.2" fill="#000"/>
<polyline points="2102,1477.3 2114.5,1500.8" fill="none" stroke="#000" stroke-width="1.8" stroke-linejoin="miter" stroke-linecap="butt"/>
<circle cx="2114.5" cy="1500.8" r="3.2" fill="#000"/>
<polyline points="2114.5,1500.8 2114.5,1521.4" fill="none" stroke="#000" stroke-width="2" stroke-linejoin="miter" stroke-linecap="butt"/>
<polyline points="2109.5,1516.4 2114.5,1521.4 2119.5,1516.4" fill="none" stroke="#000" stroke-width="2.2" stroke-linejoin="miter" stroke-linecap="butt"/>
<polyline points="2127,1456.8 2127,1477.3" fill="none" stroke="#000" stroke-width="2" stroke-linejoin="miter" stroke-linecap="butt"/>
<polyline points="2122,1461.8 2127,1456.8 2132,1461.8" fill="none" stroke="#000" stroke-width="2.2" stroke-linejoin="miter" stroke-linecap="butt"/>
<circle cx="2127" cy="1477.3" r="3.2" fill="#000"/>
<path d="M2104,1477.3 Q2114.5,1481.3 2125,1477.3" fill="none" stroke="#667788" stroke-width="1.6" stroke-dasharray="3 2.5"/>
<polyline points="2109,1488.8 2114.5,1488.8" fill="none" stroke="#000" stroke-width="2" stroke-linejoin="miter" stroke-linecap="butt"/>
<polyline points="2123,1488.8 2147.9,1488.8" fill="none" stroke="#000" stroke-width="2" stroke-linejoin="miter" stroke-linecap="butt"/>
<polyline points="2386.3,1456.8 2386.3,1477.3" fill="none" stroke="#000" stroke-width="2" stroke-linejoin="miter" stroke-linecap="butt"/>
<polyline points="2381.3,1461.8 2386.3,1456.8 2391.3,1461.8" fill="none" stroke="#000" stroke-width="2.2" stroke-linejoin="miter" stroke-linecap="butt"/>
<circle cx="2386.3" cy="1477.3" r="3.2" fill="#000"/>
<polyline points="2386.3,1477.3 2398.8,1500.8" fill="none" stroke="#000" stroke-width="1.8" stroke-linejoin="miter" stroke-linecap="butt"/>
<circle cx="2398.8" cy="1500.8" r="3.2" fill="#000"/>
<polyline points="2398.8,1500.8 2398.8,1521.2" fill="none" stroke="#000" stroke-width="2" stroke-linejoin="miter" stroke-linecap="butt"/>
<polyline points="2393.8,1516.2 2398.8,1521.2 2403.8,1516.2" fill="none" stroke="#000" stroke-width="2.2" stroke-linejoin="miter" stroke-linecap="butt"/>
<polyline points="2411.3,1456.8 2411.3,1477.3" fill="none" stroke="#000" stroke-width="2" stroke-linejoin="miter" stroke-linecap="butt"/>
<polyline points="2406.3,1461.8 2411.3,1456.8 2416.3,1461.8" fill="none" stroke="#000" stroke-width="2.2" stroke-linejoin="miter" stroke-linecap="butt"/>
<circle cx="2411.3" cy="1477.3" r="3.2" fill="#000"/>
<path d="M2388.3,1477.3 Q2398.8,1481.3 2409.3,1477.3" fill="none" stroke="#667788" stroke-width="1.6" stroke-dasharray="3 2.5"/>
<polyline points="2393.3,1488.8 2398.8,1488.8" fill="none" stroke="#000" stroke-width="2" stroke-linejoin="miter" stroke-linecap="butt"/>
<polyline points="2407.3,1488.8 2432.2,1488.8" fill="none" stroke="#000" stroke-width="2" stroke-linejoin="miter" stroke-linecap="butt"/>
<polyline points="516.6,1460 516.6,1479" fill="none" stroke="#000" stroke-width="2" stroke-linejoin="miter" stroke-linecap="butt"/>
<polyline points="511.6,1465 516.6,1460 521.6,1465" fill="none" stroke="#000" stroke-width="2.2" stroke-linejoin="miter" stroke-linecap="butt"/>
<path d="M516.6,1479 c6,0.5 6,8.5 0,9 c6,0.5 6,8.5 0,9 c6,0.5 6,8.5 0,9" fill="none" stroke="#000" stroke-width="2"/>
<polyline points="516.6,1506 516.6,1525" fill="none" stroke="#000" stroke-width="2" stroke-linejoin="miter" stroke-linecap="butt"/>
<polyline points="511.6,1520 516.6,1525 521.6,1520" fill="none" stroke="#000" stroke-width="2.2" stroke-linejoin="miter" stroke-linecap="butt"/>
<line x1="521" y1="1491.6" x2="637" y2="1491.6" stroke="#000" stroke-width="2" stroke-dasharray="18 8"/>
<polyline points="639.6,1460 639.6,1480.4" fill="none" stroke="#000" stroke-width="2" stroke-linejoin="miter" stroke-linecap="butt"/>
<polyline points="634.6,1465 639.6,1460 644.6,1465" fill="none" stroke="#000" stroke-width="2.2" stroke-linejoin="miter" stroke-linecap="butt"/>
<circle cx="639.6" cy="1480.4" r="3.2" fill="#000"/>
<polyline points="639.6,1480.4 652.1,1503.7" fill="none" stroke="#000" stroke-width="1.8" stroke-linejoin="miter" stroke-linecap="butt"/>
<circle cx="652.1" cy="1503.7" r="3.2" fill="#000"/>
<circle cx="627.6" cy="1503.7" r="3.2" fill="#000"/>
<path d="M629.6,1503.7 Q639.85,1507.7 650.1,1503.7" fill="none" stroke="#667788" stroke-width="1.6" stroke-dasharray="3 2.5"/>
<polyline points="627.6,1503.7 627.6,1525" fill="none" stroke="#000" stroke-width="2" stroke-linejoin="miter" stroke-linecap="butt"/>
<polyline points="622.6,1520 627.6,1525 632.6,1520" fill="none" stroke="#000" stroke-width="2.2" stroke-linejoin="miter" stroke-linecap="butt"/>
</svg></body></html>
